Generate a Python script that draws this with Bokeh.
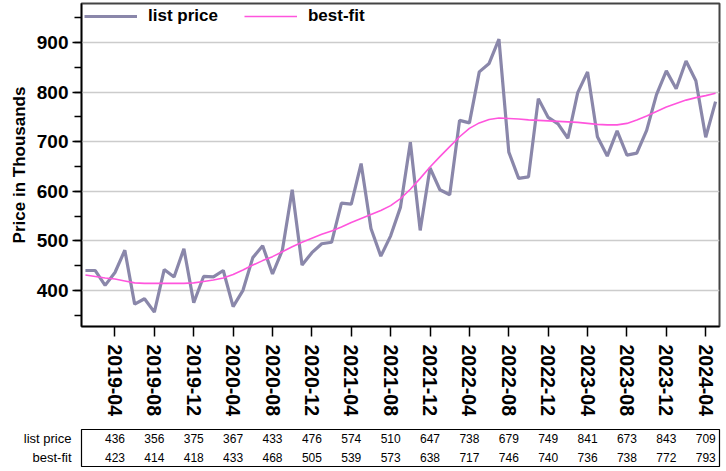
import pandas as pd
from bokeh.plotting import figure
from bokeh.layouts import column
from bokeh.models import Range1d, FactorRange, FixedTicker, SingleIntervalTicker, Legend
from bokeh.embed import file_html
from bokeh.resources import INLINE
from bokeh.core.properties import value

# ---------------- data ----------------
months = [d.strftime("%Y-%m") for d in pd.date_range("2019-01-01", periods=65, freq="MS")]

list_price = [440, 440, 410, 436, 481, 372, 383, 356, 442, 427,
              484, 375, 428, 427, 440, 367, 400, 466, 490, 433,
              481, 603, 451, 476, 494, 497, 576, 574, 656, 525,
              469, 510, 568, 699, 521, 647, 603, 593, 743, 738,
              841, 858, 907, 679, 626, 629, 787, 749, 736, 707,
              799, 841, 710, 671, 722, 673, 677, 723, 795, 843,
              807, 863, 823, 709, 781]

best_fit = [431, 428, 425, 423, 419, 415, 414, 414, 414, 414,
            414, 415, 418, 421, 425, 432, 441, 451, 460, 468,
            478, 488, 497, 505, 513, 520, 528, 537, 545, 553,
            561, 571, 585, 604, 626, 649, 670, 690, 710, 727,
            738, 745, 748, 747, 746, 744, 743, 742, 741, 740,
            739, 737, 735, 734, 734, 737, 744, 752, 761, 770,
            777, 784, 789, 793, 798]

tick_labels = ["2019-04", "2019-08", "2019-12", "2020-04", "2020-08", "2020-12",
               "2021-04", "2021-08", "2021-12", "2022-04", "2022-08", "2022-12",
               "2023-04", "2023-08", "2023-12", "2024-04"]

table_list = [436, 356, 375, 367, 433, 476, 574, 510, 647, 738, 679, 749, 841, 673, 843, 709]
table_fit = [423, 414, 418, 433, 468, 505, 539, 573, 638, 717, 746, 740, 736, 738, 772, 793]
row_labels = ["list price", "best-fit"]

# ---------------- chart ----------------
FONT = "Liberation Sans"
x = list(range(len(months)))
tick_pos = [months.index(t) for t in tick_labels]

xr = Range1d(-0.4, 64.4)
p = figure(width=726, height=425, x_range=xr, y_range=Range1d(327, 979),
           output_backend="svg", toolbar_location=None,
           min_border_left=81, min_border_right=7, min_border_top=3, min_border_bottom=99)
p.background_fill_color = "white"
p.border_fill_color = "white"
p.outline_line_color = "#444444"
p.outline_line_width = 2

r1 = p.line(x, list_price, line_color="#8a87aa", line_width=3.2)
r2 = p.line(x, best_fit, line_color="#ff55dd", line_width=1.6)

legend = Legend(items=[(row_labels[0], [r1]), (row_labels[1], [r2])],
                orientation="horizontal", location="top_left",
                glyph_width=53, glyph_height=18, label_standoff=11, spacing=26,
                padding=3, margin=0, border_line_alpha=0, background_fill_alpha=0,
                label_text_font=FONT, label_text_font_style="bold",
                label_text_font_size="17px", label_text_color="black")
p.add_layout(legend)

yt = SingleIntervalTicker(interval=100, num_minor_ticks=2)
p.yaxis.ticker = yt
p.yaxis.axis_label = "Price in Thousands"
p.yaxis.axis_label_text_font = FONT
p.yaxis.axis_label_text_font_style = "bold"
p.yaxis.axis_label_text_font_size = "17px"
p.yaxis.axis_label_text_color = "black"
p.yaxis.axis_label_standoff = 5
p.yaxis.major_label_text_font = FONT
p.yaxis.major_label_text_font_style = "bold"
p.yaxis.major_label_text_font_size = "19px"
p.yaxis.major_label_text_color = "black"
p.yaxis.major_label_standoff = 4
p.yaxis.major_tick_out = 9
p.yaxis.major_tick_in = 0
p.yaxis.minor_tick_out = 7
p.yaxis.minor_tick_in = 0
p.yaxis.axis_line_width = 1.5
p.yaxis.major_tick_line_width = 1.5
p.yaxis.minor_tick_line_width = 1.5

p.ygrid.ticker = yt
p.ygrid.grid_line_color = "#cccccc"
p.ygrid.grid_line_width = 1.5
p.xgrid.visible = False

p.xaxis.ticker = FixedTicker(ticks=tick_pos)
p.xaxis.major_label_overrides = {pos: lbl for pos, lbl in zip(tick_pos, tick_labels)}
p.xaxis.major_label_orientation = "vertical"
p.xaxis.major_label_text_font = FONT
p.xaxis.major_label_text_font_style = "bold"
p.xaxis.major_label_text_font_size = "19.5px"
p.xaxis.major_label_text_color = "black"
p.xaxis.major_label_standoff = 8
p.xaxis.major_tick_out = 10
p.xaxis.major_tick_in = 0
p.xaxis.minor_tick_line_color = None
p.xaxis.axis_line_width = 1.5
p.xaxis.major_tick_line_width = 1.5

# ---------------- table ----------------
t = figure(width=726, height=46, x_range=xr,
           y_range=FactorRange(factors=row_labels[::-1], range_padding=0),
           x_axis_type=None, output_backend="svg", toolbar_location=None,
           min_border_left=81, min_border_right=7, min_border_top=4, min_border_bottom=5)
t.grid.visible = False
t.outline_line_color = "black"
t.outline_line_width = 1.2
t.yaxis.axis_line_color = None
t.yaxis.major_tick_line_color = None
t.yaxis.minor_tick_line_color = None
t.yaxis.major_label_text_font = FONT
t.yaxis.major_label_text_font_size = "13px"
t.yaxis.major_label_text_color = "black"
t.yaxis.major_label_standoff = 4

t.text(x=tick_pos, y=[row_labels[0]] * len(tick_pos), text=[str(v) for v in table_list],
       text_align="center", text_baseline="middle", text_font=value(FONT),
       text_font_size="12px", text_color="black")
t.text(x=tick_pos, y=[row_labels[1]] * len(tick_pos), text=[str(v) for v in table_fit],
       text_align="center", text_baseline="middle", text_font=value(FONT),
       text_font_size="12px", text_color="black")

root = column(p, t, spacing=0)

open("out.html", "w").write(file_html(root, INLINE))
